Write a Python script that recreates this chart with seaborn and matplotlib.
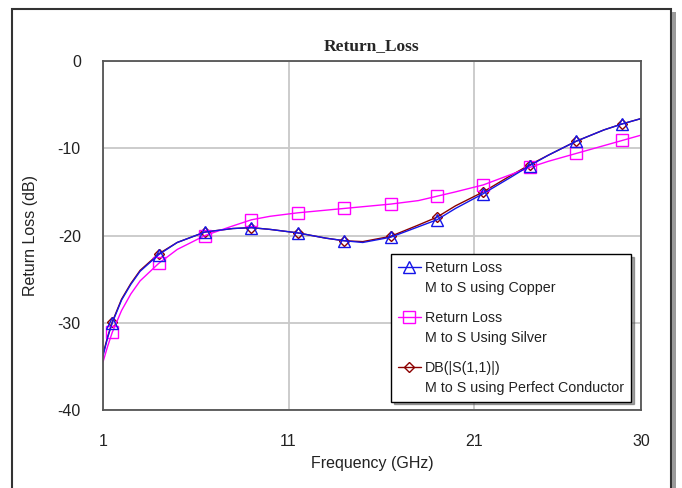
import numpy as np
import matplotlib
matplotlib.use("Agg")
import matplotlib.pyplot as plt
import seaborn as sns
from matplotlib.legend_handler import HandlerLine2D
from matplotlib.patches import Rectangle

# Values
freq = [1, 1.25, 1.5, 2, 2.5, 3, 4, 5, 6.5, 8, 9, 10, 11.5, 13, 14, 15,
        16.5, 18, 19, 20, 21.5, 23, 24, 25, 26.5, 28, 29, 30]
copper = [-33.8, -31.7, -30.0, -27.4, -25.6, -24.1, -22.2, -20.8, -19.6, -19.2,
          -19.1, -19.3, -19.7, -20.3, -20.6, -20.8, -20.2, -19.0, -18.2, -16.9,
          -15.2, -13.3, -12.0, -10.8, -9.2, -7.9, -7.2, -6.6]
silver = [-34.5, -32.7, -31.1, -28.6, -26.7, -25.2, -23.2, -21.6, -20.0, -18.9,
          -18.2, -17.8, -17.4, -17.1, -16.9, -16.7, -16.4, -16.0, -15.5, -15.0,
          -14.2, -13.0, -12.2, -11.5, -10.6, -9.7, -9.1, -8.5]
pec = [-33.6, -31.6, -29.9, -27.3, -25.5, -24.0, -22.1, -20.8, -19.6, -19.2,
       -19.1, -19.3, -19.7, -20.3, -20.6, -20.7, -20.1, -18.8, -17.9, -16.6,
       -15.0, -13.1, -11.9, -10.8, -9.2, -7.9, -7.2, -6.6]
marker_freqs = [1.5, 4, 6.5, 9, 11.5, 14, 16.5, 19, 21.5, 24, 26.5, 29]

labels = ["Return Loss\nM to S using Copper",
          "Return Loss\nM to S Using Silver",
          "DB(|S(1,1)|)\nM to S using Perfect Conductor"]

sns.set_theme(style="whitegrid")
plt.rcParams['font.family'] = ['Liberation Sans', 'DejaVu Sans']
plt.rcParams['axes.unicode_minus'] = False

W, H = 682, 488
fig = plt.figure(figsize=(W / 100, H / 100), dpi=100)
ax = fig.add_axes([103 / W, (H - 410) / H, 538 / W, 349 / H])

mark_idx = [i for i, f in enumerate(freq) if f in marker_freqs]

sns.lineplot(x=freq, y=pec, ax=ax, color="#8B0000", lw=1.0, marker="D",
             markersize=5, markevery=mark_idx, markerfacecolor="none",
             markeredgecolor="#8B0000", markeredgewidth=1.0, label=labels[2])
sns.lineplot(x=freq, y=silver, ax=ax, color="#FF00FF", lw=1.0, marker="s",
             markersize=9, markevery=mark_idx, markerfacecolor="none",
             markeredgecolor="#FF00FF", markeredgewidth=1.0, label=labels[1])
sns.lineplot(x=freq, y=copper, ax=ax, color="#1515E8", lw=1.0, marker="^",
             markersize=8, markevery=mark_idx, markerfacecolor="none",
             markeredgecolor="#1515E8", markeredgewidth=1.0, label=labels[0])

ax.set_xlim(1, 30)
ax.set_ylim(-40, 0)
ax.set_xticks([1, 11, 21, 30])
ax.set_yticks([0, -10, -20, -30, -40])
ax.grid(True, color="#C8C8C8", lw=1.3)
ax.set_facecolor("white")
for s in ax.spines.values():
    s.set_color("#555555")
    s.set_linewidth(1.3)
ax.tick_params(axis="x", length=0, pad=17, labelsize=11.5, labelcolor="#222222")
ax.tick_params(axis="y", length=0, pad=16, labelsize=11.5, labelcolor="#222222")
ax.set_xlabel("Frequency (GHz)", fontsize=11.5, color="#222222", labelpad=5)
ax.set_ylabel("Return Loss (dB)", fontsize=11.5, color="#222222", labelpad=14)
ax.set_title("Return_Loss", fontsize=12.5, fontweight="bold",
             family="Liberation Serif", pad=8)


class TopHandler(HandlerLine2D):
    # put the legend marker beside the first line of a two-line label
    def create_artists(self, legend, orig_handle, xdescent, ydescent,
                       width, height, fontsize, trans):
        arts = super().create_artists(legend, orig_handle, xdescent, ydescent,
                                      width, height, fontsize, trans)
        for a in arts:
            a.set_ydata(np.asarray(a.get_ydata()) + fontsize * 0.78)
        return arts


lines = ax.get_lines()
handles = [lines[2], lines[1], lines[0]]
leg = ax.legend(handles, labels, loc="upper left", bbox_to_anchor=(0.535, 0.447),
                borderaxespad=0, frameon=True, fancybox=False, shadow=True,
                fontsize=10.3, handlelength=1.6, handletextpad=0.3,
                labelspacing=1.15, borderpad=0.5,
                handler_map={l: TopHandler(numpoints=1) for l in lines})
leg.get_frame().set_edgecolor("black")
leg.get_frame().set_linewidth(1.0)
for t in leg.get_texts():
    t.set_color("#222222")
    t.set_linespacing(1.5)

# outer frame around the whole chart
fig.patches.append(Rectangle((12 / W, -0.1), 659 / W, 1.1 - 9 / H,
                             transform=fig.transFigure, fill=False,
                             edgecolor="#333333", lw=1.5))
fig.patches.append(Rectangle((672 / W, -0.1), 4 / W, 1.1 - 12 / H,
                             transform=fig.transFigure, facecolor="#9A9A9A",
                             edgecolor="none"))

fig.savefig("out.png", dpi=100)
